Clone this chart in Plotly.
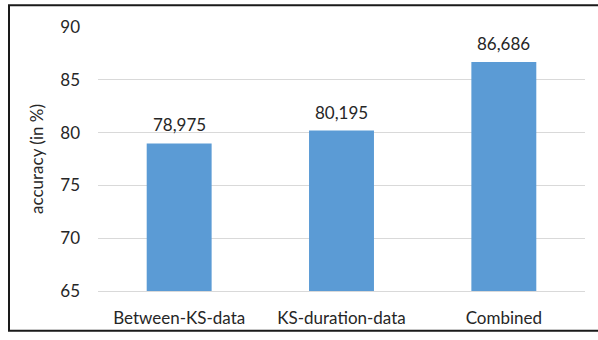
import plotly.graph_objects as go

categories = ["Between-KS-data", "KS-duration-data", "Combined"]
accuracy = [78.975, 80.195, 86.686]
y_ticks = [65, 70, 75, 80, 85, 90]

font_family = "Lato, Open Sans, sans-serif"
text_color = "#262626"

fig = go.Figure(
    go.Bar(
        x=categories,
        y=accuracy,
        marker=dict(color="#5B9BD5", line=dict(width=0)),
    )
)

# value labels above each bar, with a comma decimal separator
for cat, val in zip(categories, accuracy):
    fig.add_annotation(
        x=cat,
        y=val,
        text=f"{val:.3f}".replace(".", ","),
        showarrow=False,
        yanchor="bottom",
        yshift=6,
        font=dict(family=font_family, size=17, color=text_color),
    )

fig.update_layout(
    width=598,
    height=340,
    margin=dict(l=98, r=13, t=27, b=47),
    paper_bgcolor="white",
    plot_bgcolor="white",
    bargap=0.6,
    showlegend=False,
    font=dict(family=font_family, size=17, color=text_color),
    xaxis=dict(
        showline=True,
        linecolor="#D9D9D9",
        linewidth=1,
        showgrid=False,
        ticks="",
        ticklabelstandoff=12,
        tickfont=dict(size=17, color=text_color),
    ),
    yaxis=dict(
        range=[65, 90],
        tickvals=y_ticks,
        showgrid=True,
        gridcolor="#D9D9D9",
        gridwidth=1,
        zeroline=False,
        showline=False,
        ticks="",
        ticklabelstandoff=17,
        tickfont=dict(size=17, color=text_color),
        title=dict(text="accuracy (in %)", font=dict(size=17, color=text_color), standoff=12),
    ),
    shapes=[
        dict(
            type="rect",
            xref="paper",
            yref="paper",
            x0=(9 - 98) / 487,
            x1=(604 - 98) / 487,
            y0=(293 - 333) / 266,
            y1=(293 - 5) / 266,
            line=dict(color="#1a1a1a", width=2),
            fillcolor="rgba(0,0,0,0)",
            layer="above",
        )
    ],
)

fig.write_html("out.html")
